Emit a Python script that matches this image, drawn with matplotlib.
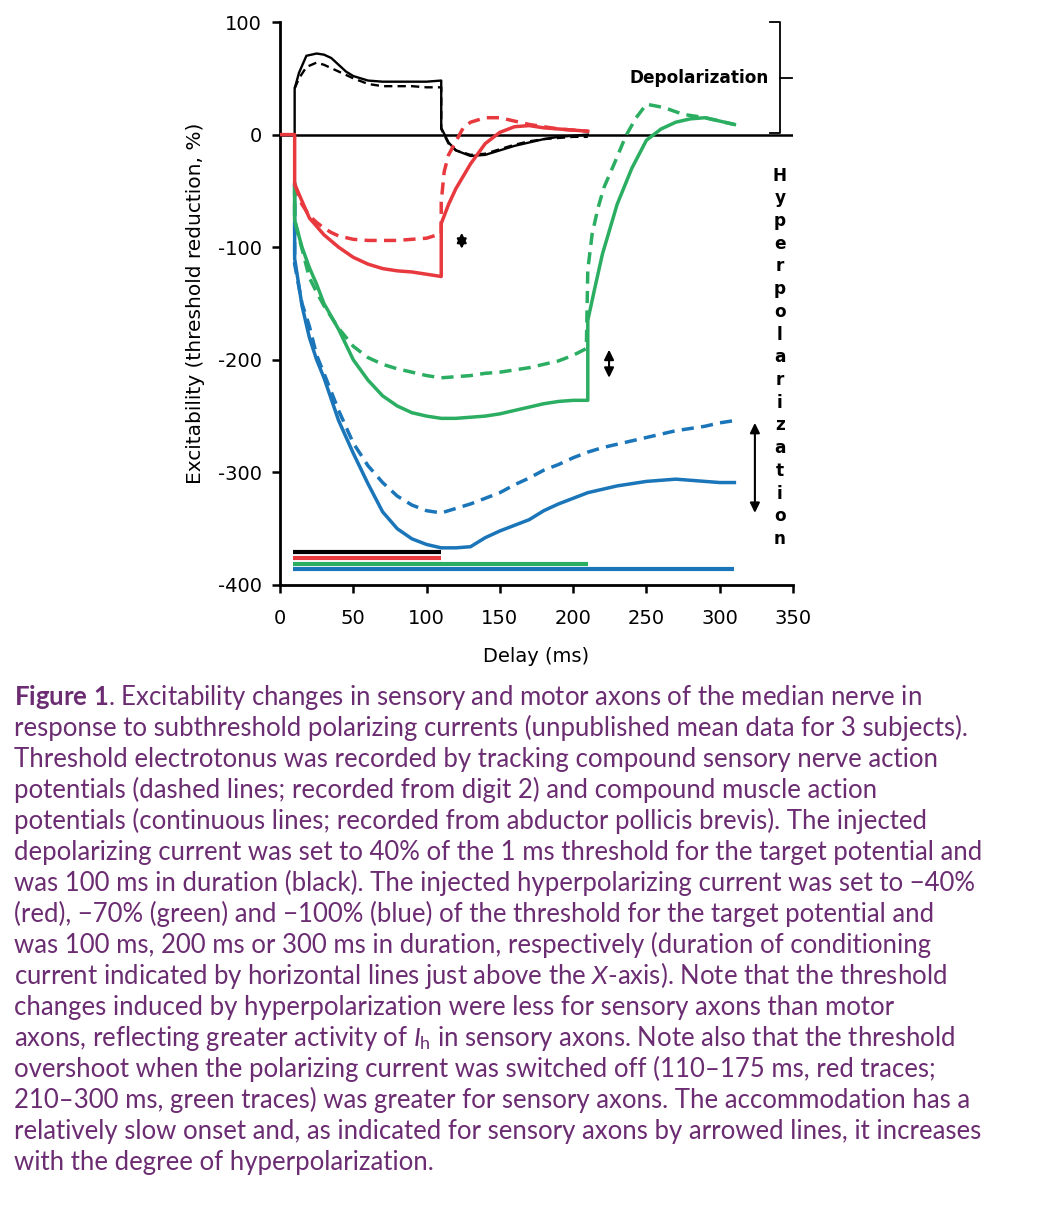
import matplotlib
matplotlib.use('Agg')
import matplotlib.pyplot as plt

# ---------------- data ----------------
# Depolarizing (black): motor = solid, sensory = dashed
black_motor_t = [0, 10, 10, 13, 18, 25, 30, 35, 40, 45, 50, 60, 70, 80, 90, 100, 110, 110, 115, 120, 130, 140, 150, 160, 170, 180, 190, 200, 210]
black_motor_v = [0, 0, 41, 55, 70, 72, 71, 68, 62, 56, 52, 48, 47, 47, 47, 47, 48, 6, -7, -14, -19, -18, -14, -10, -7, -4, -2, -1, 0]
black_sens_t = [10, 13, 18, 25, 30, 40, 50, 60, 70, 80, 90, 100, 110, 110, 115, 120, 130, 140, 150, 160, 170, 180, 190, 200, 210]
black_sens_v = [41, 50, 60, 64, 62, 56, 50, 45, 43, 43, 43, 42, 42, 5, -8, -14, -18, -17, -13, -9, -6, -4, -3, -2, -2]

# -40% hyperpolarizing (red)
red_motor_t = [0, 10, 10, 20, 30, 40, 50, 60, 70, 80, 90, 100, 110, 110, 115, 120, 130, 140, 150, 160, 170, 180, 190, 200, 210]
red_motor_v = [0, 0, -44, -74, -89, -100, -109, -115, -119, -121, -122, -124, -126, -79, -62, -48, -26, -8, 2, 7, 8, 6, 5, 4, 3]
red_sens_t = [10, 15, 20, 25, 30, 35, 40, 50, 60, 70, 80, 90, 100, 110, 110, 112, 115, 120, 125, 130, 140, 150, 160, 170, 180, 190, 200, 210]
red_sens_v = [-44, -62, -72, -78, -83, -87, -90, -93, -94, -94, -94, -93, -92, -88, -60, -33, -18, -6, 6, 11, 15, 15, 12, 9, 7, 5, 4, 3]

# -70% hyperpolarizing (green)
green_motor_t = [10, 10, 15, 20, 25, 30, 40, 50, 60, 70, 80, 90, 100, 110, 120, 130, 140, 150, 160, 170, 180, 190, 200, 210, 210, 215, 220, 230, 240, 250, 260, 270, 280, 290, 300, 310]
green_motor_v = [-44, -76, -100, -118, -133, -150, -173, -200, -218, -232, -241, -247, -250, -252, -252, -251, -250, -248, -245, -242, -239, -237, -236, -236, -165, -135, -106, -62, -30, -5, 5, 11, 14, 15, 12, 9]
green_sens_t = [10, 10, 20, 25, 30, 40, 50, 60, 70, 80, 90, 100, 110, 120, 130, 140, 150, 160, 170, 180, 190, 200, 209, 210, 213, 217, 221, 229, 236, 243, 250, 262, 275, 290, 300, 310]
green_sens_v = [-44, -76, -127, -140, -152, -172, -188, -198, -204, -208, -211, -214, -216, -215, -214, -212, -211, -209, -207, -204, -201, -196, -190, -120, -88, -65, -47, -23, -1, 15, 27, 24, 18, 15, 12, 9]

# -100% hyperpolarizing (blue)
blue_motor_t = [10, 10, 15, 20, 25, 30, 40, 50, 60, 70, 80, 90, 100, 110, 120, 130, 140, 150, 160, 170, 180, 190, 200, 210, 220, 230, 240, 250, 260, 270, 280, 290, 300, 310]
blue_motor_v = [-44, -110, -152, -180, -200, -216, -254, -283, -310, -335, -350, -359, -364, -367, -367, -366, -358, -352, -347, -342, -334, -328, -323, -318, -315, -312, -310, -308, -307, -306, -307, -308, -309, -309]
blue_sens_t = [10, 10, 15, 20, 25, 30, 40, 50, 60, 70, 80, 90, 100, 110, 120, 130, 140, 150, 160, 170, 180, 190, 200, 210, 220, 230, 240, 250, 260, 270, 280, 290, 300, 310]
blue_sens_v = [-44, -115, -150, -170, -196, -212, -245, -274, -294, -309, -321, -329, -334, -336, -332, -328, -323, -318, -311, -305, -298, -293, -287, -282, -278, -275, -272, -269, -266, -263, -261, -259, -256, -254]

# conditioning-current duration bars: (start, end, level)
bar_start = [9, 9, 9, 9]
bar_end = [110, 110, 210, 310]
bar_level = [-371, -376, -381, -386]

# accommodation arrows: (time, from, to)
arrow_t = [124, 224.5, 324]
arrow_from = [-87.2, -191, -256]
arrow_to = [-101.4, -216, -336]

x_ticks = [0, 50, 100, 150, 200, 250, 300, 350]
y_ticks = [-400, -300, -200, -100, 0, 100]

caption_lines = [
    r"$\mathbf{Figure\ 1}$. Excitability changes in sensory and motor axons of the median nerve in",
    "response to subthreshold polarizing currents (unpublished mean data for 3 subjects).",
    "Threshold electrotonus was recorded by tracking compound sensory nerve action",
    "potentials (dashed lines; recorded from digit 2) and compound muscle action",
    "potentials (continuous lines; recorded from abductor pollicis brevis). The injected",
    "depolarizing current was set to 40% of the 1 ms threshold for the target potential and",
    "was 100 ms in duration (black). The injected hyperpolarizing current was set to \u221240%",
    "(red), \u221270% (green) and \u2212100% (blue) of the threshold for the target potential and",
    "was 100 ms, 200 ms or 300 ms in duration, respectively (duration of conditioning",
    r"current indicated by horizontal lines just above the $\mathit{X}$-axis). Note that the threshold",
    "changes induced by hyperpolarization were less for sensory axons than motor",
    r"axons, reflecting greater activity of $\mathit{I}_{\mathrm{h}}$ in sensory axons. Note also that the threshold",
    "overshoot when the polarizing current was switched off (110\u2013175 ms, red traces;",
    "210\u2013300 ms, green traces) was greater for sensory axons. The accommodation has a",
    "relatively slow onset and, as indicated for sensory axons by arrowed lines, it increases",
    "with the degree of hyperpolarization.",
]

# ---------------- style ----------------
BLACK = '#000000'
RED = '#E8393F'
GREEN = '#2BAE62'
BLUE = '#1A75B9'
PURPLE = '#6B2C72'

cap_font = ['Liberation Sans Narrow', 'Lato', 'DejaVu Sans']
plt.rcParams['font.family'] = ['DejaVu Sans']
plt.rcParams['axes.unicode_minus'] = False
plt.rcParams['mathtext.fontset'] = 'custom'
plt.rcParams['mathtext.rm'] = 'Lato'
plt.rcParams['mathtext.it'] = 'Lato:italic'
plt.rcParams['mathtext.bf'] = 'Lato:bold'

W, H = 1060, 1209
fig = plt.figure(figsize=(W / 100, H / 100), dpi=100)
fig.patch.set_facecolor('white')
ax = fig.add_axes([280 / W, 1 - 585 / H, 513 / W, 563 / H])

ax.set_xlim(0, 350)
ax.set_ylim(-400, 100)
ax.axhline(0, color=BLACK, lw=1.8, zorder=1)

LW = 2.5
dash_c = (0, (3.5, 2.1))
dash_k = (0, (3.5, 2.2))

ax.plot(blue_motor_t, blue_motor_v, color=BLUE, lw=LW, zorder=3)
ax.plot(blue_sens_t, blue_sens_v, color=BLUE, lw=LW, ls=dash_c, zorder=3)
ax.plot(green_motor_t, green_motor_v, color=GREEN, lw=LW, zorder=3)
ax.plot(green_sens_t, green_sens_v, color=GREEN, lw=LW, ls=dash_c, zorder=3)
ax.plot(black_motor_t, black_motor_v, color=BLACK, lw=1.7, zorder=4)
ax.plot(black_sens_t, black_sens_v, color=BLACK, lw=1.7, ls=dash_k, zorder=4)
ax.plot(red_motor_t, red_motor_v, color=RED, lw=LW, zorder=5)
ax.plot(red_sens_t, red_sens_v, color=RED, lw=LW, ls=dash_c, zorder=5)

for s, e, lv, c in zip(bar_start, bar_end, bar_level, [BLACK, RED, GREEN, BLUE]):
    ax.plot([s, e], [lv, lv], color=c, lw=3.0, solid_capstyle='butt', zorder=4)

for t, a, b in zip(arrow_t, arrow_from, arrow_to):
    ax.annotate('', xy=(t, b), xytext=(t, a),
                arrowprops=dict(arrowstyle='<|-|>,head_length=0.45,head_width=0.22',
                                color=BLACK, lw=1.5, shrinkA=0, shrinkB=0,
                                mutation_scale=13))

# Depolarization bracket
ax.plot([334.5, 341, 341, 334.5], [100, 100, 1, 1], color=BLACK, lw=1.3,
        clip_on=False, zorder=6)
ax.plot([341, 349], [50, 50], color=BLACK, lw=1.3, clip_on=False, zorder=6)
ax.text(333.5, 50, 'Depolarization', ha='right', va='center', fontsize=12.2,
        fontweight='bold', color=BLACK)

# Hyperpolarization (vertical, stacked letters)
word = 'Hyperpolarization'
y0, step = -36.4, -20.17
for i, ch in enumerate(word):
    ax.text(341, y0 + i * step, ch, ha='center', va='center', fontsize=12.2,
            fontweight='bold', color=BLACK)

# axes styling
for sp in ['top', 'right']:
    ax.spines[sp].set_visible(False)
for sp in ['left', 'bottom']:
    ax.spines[sp].set_linewidth(2.0)
    ax.spines[sp].set_color(BLACK)
ax.set_xticks(x_ticks)
ax.set_yticks(y_ticks)
ax.tick_params(axis='both', direction='out', length=6, width=1.8, labelsize=14, colors=BLACK)
ax.tick_params(axis='x', pad=11)
ax.tick_params(axis='y', pad=7)
ax.set_xlabel('Delay (ms)', fontsize=14)
ax.set_ylabel('Excitability (threshold reduction, %)', fontsize=14.5)
ax.xaxis.set_label_coords(0.5, -0.111)
ax.yaxis.set_label_coords(-0.146, 0.5)

# caption: font size fitted so that the longest line spans the same width as in the reference
renderer = fig.canvas.get_renderer()
probe = fig.text(14 / W, 0.5, caption_lines[5], fontsize=20, family=cap_font)
w0 = probe.get_window_extent(renderer).width
probe.remove()
fs = 20 * 968.0 / w0
base0, lstep = 705.0, 31.0
for i, line in enumerate(caption_lines):
    fig.text(14 / W, 1 - (base0 + i * lstep) / H, line, fontsize=fs,
             family=cap_font, color=PURPLE, ha='left', va='baseline')

fig.savefig('out.png', dpi=100, facecolor='white')
